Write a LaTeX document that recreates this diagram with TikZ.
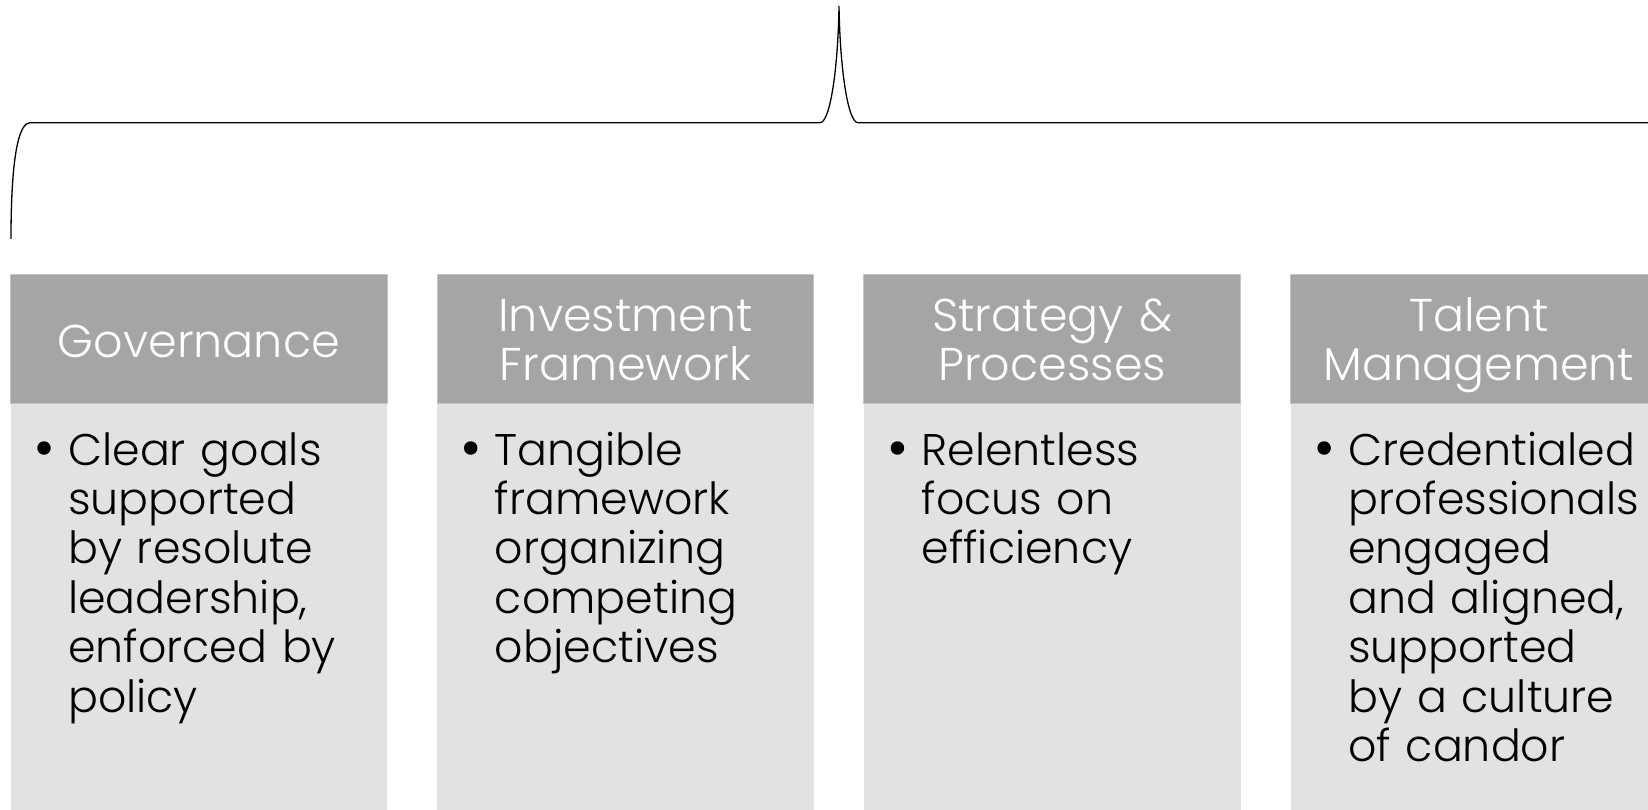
\documentclass[tikz,border=0pt]{standalone}
\usepackage{fontspec}
\setmainfont{Poppins Light}
\definecolor{hdgray}{HTML}{A5A5A5}
\definecolor{bdgray}{HTML}{E2E2E2}
\definecolor{hdedge}{HTML}{C4C4C4}
\newcommand{\titlefont}{\fontsize{46}{49.4}\selectfont}
\newcommand{\itemfont}{\fontsize{44.3}{49.4}\selectfont}
\begin{document}
\begin{tikzpicture}[x=1pt,y=-1pt,
  headbox/.style={fill=hdgray, draw=hdedge, line width=1, minimum width=376.7, minimum height=129.3, anchor=north west, inner sep=0, outer sep=0},
  bodybox/.style={fill=bdgray, minimum width=376.7, minimum height=406.2, anchor=north west, inner sep=0, outer sep=0},
  headtxt/.style={text=white, font=\titlefont, align=center, text width=376.7, inner sep=0, anchor=base},
  bodytxt/.style={text=black, font=\itemfont, align=left, text width=318, inner sep=0, anchor=base west},
  dot/.style={circle, fill=black, minimum size=13.5, inner sep=0},
  brace line/.style={draw=black, line width=1.3}
]
\useasboundingbox (0,0) rectangle (1648,810);

% the four pillars: light body below a darker title band
\node[bodybox] (gov-body) at (10.5,403.3) {};
\node[bodybox] (inv-body) at (437.2,403.3) {};
\node[bodybox] (str-body) at (863.9,403.3) {};
\node[bodybox] (tal-body) at (1290.6,403.3) {};
\node[headbox] (gov-head) at (10.5,274) {};
\node[headbox] (inv-head) at (437.2,274) {};
\node[headbox] (str-head) at (863.9,274) {};
\node[headbox] (tal-head) at (1290.6,274) {};

% titles
\node[headtxt] (gov-title) at (198.85,357) {Governance};
\node[headtxt] (inv-title) at (625.55,331) {Investment\\Framework};
\node[headtxt] (str-title) at (1052.25,331) {Strategy \&\\Processes};
\node[headtxt] (tal-title) at (1478.95,331) {Talent\\Management};

% bullets and their text
\node[dot] (gov-dot) at (44,448) {};
\node[bodytxt] (gov-text) at (68,465) {Clear goals\\supported\\by resolute\\leadership,\\enforced by\\policy};
\node[dot] (inv-dot) at (470.7,448) {};
\node[bodytxt] (inv-text) at (494.7,465) {Tangible\\framework\\organizing\\competing\\objectives};
\node[dot] (str-dot) at (897.4,448) {};
\node[bodytxt] (str-text) at (921.4,465) {Relentless\\focus on\\efficiency};
\node[dot] (tal-dot) at (1324.1,448) {};
\node[bodytxt] (tal-text) at (1348.1,465) {Credentialed\\professionals\\engaged\\and aligned,\\supported\\by a culture\\of candor};

% curly brace spanning the pillars
\coordinate (brace-left) at (11,239);
\coordinate (brace-tip) at (839,6);
\coordinate (brace-right) at (1660,122.7);
\draw[brace line] (brace-left) .. controls (11,150) and (20,122.7) .. (30,122.7)
  -- (820,122.7) .. controls (830,122.7) and (838,70) .. (brace-tip)
  .. controls (840,70) and (848,122.7) .. (858,122.7) -- (brace-right);
\end{tikzpicture}
\end{document}
